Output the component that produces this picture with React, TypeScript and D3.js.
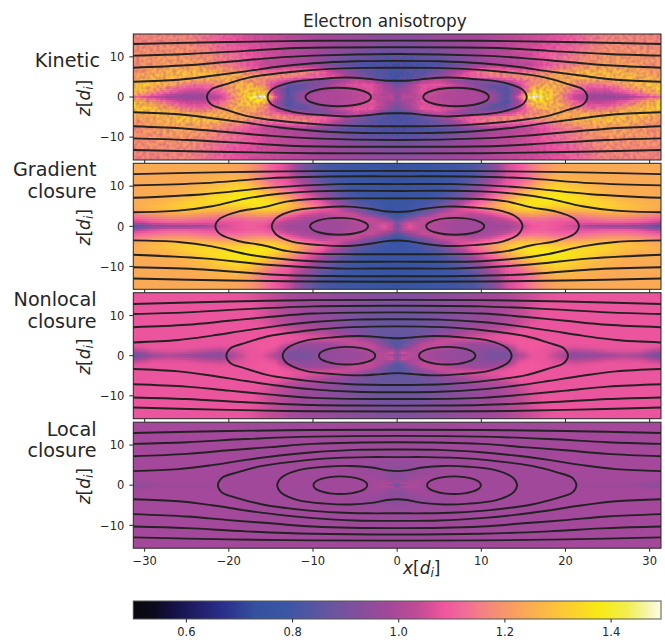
import React, { useMemo } from "react";
import * as d3 from "d3";

const TITLE = "Electron anisotropy";
const X_TICKS = [-30, -20, -10, 0, 10, 20, 30];
const Z_TICKS = [-10, 0, 10];
const CBAR_TICKS = [0.6, 0.8, 1.0, 1.2, 1.4];

const CMAP_VALUES = [0.5, 0.54, 0.58, 0.67, 0.73, 0.79, 0.875, 0.98, 1.04, 1.085, 1.12, 1.175, 1.22, 1.31, 1.38, 1.43, 1.47, 1.5];
const CMAP_COLORS = ["#08080c", "#0b0a1c", "#17124a", "#2b2f8c", "#35509e", "#3b56a5", "#6a559f", "#a0489a", "#c44c96", "#f0569e", "#f06a9a", "#f58a78", "#f9a05e", "#fdc835", "#f8ea14", "#f3ee50", "#f7f5b0", "#fffff5"];

// Sample locations of the fields (upper right quadrant, |x| and |z|)
const XS = [0, 0.6, 1.5, 3, 5, 7, 9, 11, 13, 14.5, 16, 17.5, 19, 21, 23, 25, 27, 29, 31.5];
const ZS = [0, 0.5, 1, 2, 3, 4, 5, 6, 7, 8, 10, 12, 14, 16];

const kineticField = [
  [.88, 1.02, 1.02, 1.05, 1.02, 1.0, 1.0, .98, .80, 1.1, 1.52, 1.4, 1.25, 1.05, .97, .95, .98, 1.05, 1.14],
  [.92, 1.02, 1.0, 1.05, 1.02, 1.0, 1.0, .98, .80, 1.06, 1.44, 1.38, 1.25, 1.06, .98, .97, 1.02, 1.12, 1.24],
  [.94, .98, 1.0, 1.08, 1.02, 1.0, 1.0, .96, .80, 1.0, 1.38, 1.36, 1.26, 1.1, 1.02, 1.02, 1.08, 1.18, 1.32],
  [.90, .94, 1.0, 1.08, 1.04, 1.0, .98, .86, .80, 1.0, 1.28, 1.33, 1.28, 1.15, 1.07, 1.08, 1.16, 1.26, 1.35],
  [.86, .9, .98, 1.08, 1.08, 1.04, .92, .84, .86, 1.04, 1.2, 1.28, 1.28, 1.2, 1.14, 1.16, 1.24, 1.31, 1.33],
  [.78, .8, .84, 1.0, 1.05, .95, .9, .95, 1.04, 1.12, 1.18, 1.22, 1.27, 1.25, 1.24, 1.25, 1.3, 1.32, 1.28],
  [.76, .78, .80, .84, .95, 1.08, 1.1, 1.14, 1.18, 1.2, 1.22, 1.24, 1.27, 1.28, 1.3, 1.3, 1.3, 1.28, 1.24],
  [.78, .78, .8, .82, .88, 1.0, 1.12, 1.18, 1.18, 1.15, 1.15, 1.18, 1.22, 1.27, 1.31, 1.31, 1.29, 1.25, 1.21],
  [.8, .8, .8, .82, .85, .95, 1.06, 1.1, 1.08, 1.06, 1.08, 1.12, 1.17, 1.22, 1.26, 1.26, 1.26, 1.24, 1.2],
  [.74, .74, .76, .78, .8, .84, .92, .98, 1.0, 1.02, 1.04, 1.08, 1.13, 1.17, 1.22, 1.24, 1.24, 1.22, 1.2],
  [.82, .82, .82, .84, .86, .9, .95, 1.0, 1.02, 1.04, 1.06, 1.1, 1.13, 1.16, 1.2, 1.22, 1.22, 1.22, 1.2],
  [.88, .88, .88, .9, .92, .95, .98, 1.0, 1.02, 1.05, 1.06, 1.08, 1.1, 1.13, 1.17, 1.2, 1.2, 1.2, 1.2],
  [.92, .92, .92, .93, .95, .97, .98, 1.0, 1.02, 1.04, 1.05, 1.06, 1.08, 1.11, 1.15, 1.18, 1.18, 1.18, 1.18],
  [.94, .94, .94, .95, .96, .97, .98, 1.0, 1.02, 1.04, 1.05, 1.06, 1.08, 1.11, 1.15, 1.18, 1.18, 1.18, 1.18],
];

const gradientField = [
  [.85, 1.0, 1.08, 1.02, 1.0, .98, .98, .98, .98, 1.02, 1.08, 1.1, 1.08, 1.04, .98, .96, .96, .94, .82],
  [.9, 1.02, 1.06, 1.02, 1.0, .98, .98, .98, .99, 1.04, 1.09, 1.1, 1.08, 1.06, 1.04, 1.04, 1.03, 1.0, .9],
  [.88, 1.0, 1.04, 1.03, 1.0, .98, .98, .98, 1.0, 1.06, 1.1, 1.1, 1.08, 1.07, 1.08, 1.1, 1.1, 1.08, 1.02],
  [.82, .85, .94, 1.04, 1.04, 1.0, .98, 1.0, 1.06, 1.12, 1.14, 1.14, 1.12, 1.12, 1.14, 1.16, 1.16, 1.14, 1.1],
  [.78, .8, .82, .9, 1.04, 1.05, 1.02, 1.06, 1.14, 1.2, 1.22, 1.2, 1.18, 1.18, 1.2, 1.22, 1.22, 1.2, 1.16],
  [.78, .78, .8, .84, .94, 1.05, 1.08, 1.14, 1.24, 1.3, 1.3, 1.28, 1.26, 1.26, 1.28, 1.3, 1.28, 1.26, 1.22],
  [.78, .78, .79, .82, .88, 1.02, 1.12, 1.2, 1.3, 1.34, 1.36, 1.34, 1.32, 1.32, 1.33, 1.33, 1.3, 1.28, 1.24],
  [.78, .78, .79, .8, .84, .96, 1.08, 1.16, 1.28, 1.34, 1.37, 1.37, 1.36, 1.35, 1.34, 1.32, 1.28, 1.26, 1.25],
  [.78, .78, .78, .79, .82, .88, 1.02, 1.12, 1.22, 1.3, 1.35, 1.38, 1.38, 1.36, 1.33, 1.29, 1.26, 1.25, 1.25],
  [.78, .78, .78, .78, .8, .86, .98, 1.08, 1.18, 1.26, 1.32, 1.36, 1.37, 1.34, 1.3, 1.27, 1.25, 1.25, 1.24],
  [.77, .77, .77, .78, .79, .82, .9, 1.02, 1.09, 1.14, 1.22, 1.3, 1.33, 1.3, 1.27, 1.25, 1.24, 1.24, 1.24],
  [.76, .76, .77, .78, .79, .8, .84, .96, 1.07, 1.09, 1.14, 1.22, 1.27, 1.26, 1.25, 1.24, 1.24, 1.24, 1.24],
  [.76, .76, .77, .78, .79, .8, .82, .9, 1.05, 1.09, 1.15, 1.2, 1.23, 1.24, 1.24, 1.24, 1.24, 1.24, 1.24],
  [.76, .76, .77, .78, .79, .8, .82, .9, 1.05, 1.09, 1.15, 1.2, 1.23, 1.24, 1.24, 1.24, 1.24, 1.24, 1.24],
];

const nonlocalField = [
  [.85, .95, 1.02, 1.0, .96, .96, .95, .9, .9, 1.0, 1.07, 1.08, 1.02, .92, .94, .96, 1.0, .97, .84],
  [.96, 1.06, 1.02, 1.0, .97, .96, .95, .91, .91, 1.03, 1.08, 1.08, 1.04, .96, .98, 1.02, 1.04, 1.02, .9],
  [.92, 1.04, 1.0, 1.0, .98, .96, .95, .92, .93, 1.05, 1.08, 1.08, 1.05, 1.0, 1.02, 1.05, 1.06, 1.05, .98],
  [.84, .88, .98, 1.04, 1.0, .98, .96, .94, .98, 1.08, 1.09, 1.08, 1.07, 1.06, 1.07, 1.08, 1.08, 1.08, 1.06],
  [.84, .85, .9, 1.02, 1.05, 1.0, .98, .98, 1.06, 1.09, 1.09, 1.08, 1.08, 1.08, 1.08, 1.08, 1.08, 1.08, 1.08],
  [.84, .85, .87, .94, 1.02, 1.06, 1.06, 1.07, 1.08, 1.09, 1.08, 1.08, 1.08, 1.08, 1.08, 1.08, 1.08, 1.08, 1.08],
  [.86, .86, .87, .89, .94, 1.0, 1.04, 1.06, 1.08, 1.09, 1.08, 1.08, 1.08, 1.08, 1.08, 1.08, 1.08, 1.08, 1.08],
  [.87, .87, .87, .88, .92, .96, 1.0, 1.03, 1.06, 1.08, 1.08, 1.08, 1.08, 1.08, 1.08, 1.08, 1.08, 1.08, 1.08],
  [.87, .87, .87, .88, .9, .94, .98, 1.0, 1.03, 1.06, 1.08, 1.08, 1.08, 1.08, 1.08, 1.08, 1.08, 1.08, 1.08],
  [.87, .87, .87, .88, .9, .93, .96, .98, 1.01, 1.04, 1.07, 1.08, 1.08, 1.08, 1.08, 1.08, 1.08, 1.08, 1.08],
  [.88, .88, .88, .89, .91, .93, .95, .97, 1.0, 1.03, 1.06, 1.08, 1.08, 1.08, 1.08, 1.08, 1.08, 1.08, 1.08],
  [.9, .9, .9, .91, .92, .94, .96, .98, 1.0, 1.03, 1.06, 1.08, 1.08, 1.08, 1.08, 1.08, 1.08, 1.08, 1.08],
  [.92, .92, .92, .93, .94, .95, .97, .98, 1.0, 1.03, 1.05, 1.07, 1.08, 1.08, 1.08, 1.08, 1.08, 1.08, 1.08],
  [.92, .92, .92, .93, .94, .95, .97, .98, 1.0, 1.03, 1.05, 1.07, 1.08, 1.08, 1.08, 1.08, 1.08, 1.08, 1.08],
];

const localField = [
  [.88, .95, 1.0, .985, .98, .98, .98, .98, .98, .98, .98, .98, .98, .975, .97, .97, .97, .96, .93],
  [.92, 1.0, 1.0, .985, .98, .98, .98, .98, .98, .98, .98, .98, .98, .98, .98, .98, .98, .975, .95],
  [1.0, .95, .99, .985, .98, .98, .98, .98, .98, .98, .98, .98, .98, .98, .985, .985, .985, .985, .975],
  [.93, .93, .96, .98, .98, .98, .98, .98, .98, .98, .98, .98, .98, .985, .985, .985, .985, .985, .985],
  [.95, .95, .95, .97, .97, .98, .98, .98, .98, .98, .98, .98, .98, .985, .985, .985, .985, .985, .985],
  [.94, .94, .95, .96, .97, .98, .98, .98, .98, .98, .98, .98, .985, .985, .985, .985, .985, .985, .985],
  [.95, .95, .955, .96, .97, .975, .98, .98, .98, .98, .98, .98, .985, .985, .985, .985, .985, .985, .985],
  [.965, .965, .965, .97, .97, .975, .98, .98, .98, .98, .98, .98, .985, .985, .985, .985, .985, .985, .985],
  [.97, .97, .97, .97, .975, .975, .98, .98, .98, .98, .98, .98, .985, .985, .985, .985, .985, .985, .985],
  [.97, .97, .97, .97, .975, .975, .98, .98, .98, .98, .98, .98, .985, .985, .985, .985, .985, .985, .985],
  [.975, .975, .975, .975, .975, .98, .98, .98, .98, .98, .98, .98, .985, .985, .985, .985, .985, .985, .985],
  [.975, .975, .975, .975, .975, .98, .98, .98, .98, .98, .98, .98, .985, .985, .985, .985, .985, .985, .985],
  [.975, .975, .975, .975, .975, .98, .98, .98, .98, .98, .98, .98, .985, .985, .985, .985, .985, .985, .985],
  [.975, .975, .975, .975, .975, .98, .98, .98, .98, .98, .98, .98, .985, .985, .985, .985, .985, .985, .985],
];

// Field lines: left half, upper side, [x, z]; open lines run from the domain edge to x=0
const kineticOpen = [
  [[-31.4, 13.2], [-20, 13.7], [-10, 14.0], [0, 14.05]],
  [[-31.4, 10.3], [-25, 10.7], [-18, 11.5], [-12, 12.2], [0, 12.4]],
  [[-31.4, 7.3], [-25, 7.9], [-20, 8.8], [-15, 9.7], [-10, 10.3], [0, 10.7]],
  [[-31.4, 3.8], [-26, 4.3], [-22, 5.3], [-18, 6.4], [-14, 7.6], [-10, 8.4], [-5, 8.9], [0, 9.0]],
];
const kineticClosed = [
  [[-22.6, 0], [-22.45, 1.0], [-22.0, 2.0], [-20.3, 3.2], [-17.5, 4.9], [-12.4, 6.3], [-8, 7.0], [-4, 7.25], [0, 7.3]],
  [[-15.4, 0], [-15.25, 1.0], [-14.8, 2.0], [-12.4, 3.7], [-9, 4.5], [-6, 4.85], [-3.5, 4.55], [-1.5, 4.1], [0, 4.05]],
];
const kineticIslands = [7, 3.9, 2.3];

const gradientOpen = [
  [[-31.4, 13.0], [-20, 13.5], [-10, 13.75], [0, 13.8]],
  [[-31.4, 10.2], [-23, 10.75], [-15, 12.0], [-8, 12.4], [0, 12.45]],
  [[-31.4, 7.1], [-23, 8.0], [-15, 9.65], [-7, 10.5], [0, 10.5]],
  [[-31.4, 3.5], [-26, 3.9], [-22, 5.0], [-18, 6.9], [-14, 8.1], [-10, 8.7], [-5, 8.85], [0, 8.8]],
];
const gradientClosed = [
  [[-21.6, 0], [-21.45, 1.0], [-21.0, 2.0], [-18.9, 3.66], [-16.1, 4.65], [-13, 6.2], [-10, 6.8], [-5, 6.95], [0, 6.95]],
  [[-14.9, 0], [-14.75, 1.0], [-14.3, 2.16], [-12.5, 3.8], [-9, 4.7], [-5.8, 4.9], [-3, 4.3], [-1.5, 3.75], [0, 3.55]],
];
const gradientIslands = [6.9, 3.45, 2.1];

const nonlocalOpen = [
  [[-31.4, 12.9], [-20, 13.5], [-10, 13.85], [0, 13.9]],
  [[-31.4, 10.4], [-25, 10.8], [-18, 11.6], [-10, 12.3], [0, 12.45]],
  [[-31.4, 7.1], [-25, 7.7], [-20, 8.7], [-15, 9.7], [-10, 10.5], [0, 10.8]],
  [[-31.4, 3.3], [-26, 3.9], [-22, 5.0], [-18, 6.3], [-14, 7.5], [-10, 8.4], [-5, 9.0], [0, 9.1]],
];
const nonlocalClosed = [
  [[-20.3, 0], [-20.15, 1.0], [-19.7, 2.0], [-18, 3.2], [-15.2, 4.9], [-10, 6.4], [-6, 7.05], [-3, 7.25], [0, 7.3]],
  [[-13.6, 0], [-13.45, 1.0], [-13.0, 2.0], [-11, 3.7], [-7.5, 4.6], [-4.5, 4.9], [-2, 4.6], [-0.8, 4.4], [0, 4.35]],
];
const nonlocalIslands = [5.95, 3.35, 2.2];

const localOpen = [
  [[-31.4, 13], [-20, 13.5], [-10, 13.75], [0, 13.8]],
  [[-31.4, 10.3], [-25, 10.7], [-18, 11.5], [-10, 12.1], [0, 12.3]],
  [[-31.4, 7.2], [-25, 7.8], [-20, 8.7], [-15, 9.5], [-10, 10.3], [0, 10.7]],
  [[-31.4, 3.5], [-26, 4.0], [-22, 5.0], [-18, 6.3], [-14, 7.4], [-10, 8.2], [-5, 8.8], [0, 8.9]],
];
const localClosed = [
  [[-21.3, 0], [-21.15, 1.0], [-20.7, 2.0], [-19, 3.2], [-16, 4.8], [-11, 6.2], [-7, 6.8], [-3.5, 7.0], [0, 7.0]],
  [[-14.25, 0], [-14.1, 1.0], [-13.7, 2.0], [-11.8, 3.7], [-8.5, 4.6], [-5.5, 4.8], [-3, 4.4], [-1.2, 3.7], [0, 3.5]],
];
const localIslands = [6.75, 3.2, 2.2];

const panelFields = [kineticField, gradientField, nonlocalField, localField];
const panelOpen = [kineticOpen, gradientOpen, nonlocalOpen, localOpen];
const panelClosed = [kineticClosed, gradientClosed, nonlocalClosed, localClosed];
const panelIslands = [kineticIslands, gradientIslands, nonlocalIslands, localIslands];
const panelLabels = [["Kinetic"], ["Gradient", "closure"], ["Nonlocal", "closure"], ["Local", "closure"]];

const TEXT = "#262626";
const FONT = "'DejaVu Sans', sans-serif";
const LEFT = 133.3;
const RIGHT = 661;
const PANEL_CENTERS = [97, 226.3, 355.7, 485.2];
const LABEL_BASE = [[66.7], [176, 198], [306, 328], [436, 457]];
const LABEL_RIGHT = [100, 96.5, 96.5, 96.5];
const HALF = 63;
const CB_TOP = 601;
const CB_BOTTOM = 619;
const STEP = 2;

const x = d3.scaleLinear().domain([-31.35, 31.35]).range([LEFT, RIGHT]);
const cbar = d3.scaleLinear().domain([0.5, 1.494]).range([LEFT, RIGHT]);
const color = d3.scaleLinear<string>().domain(CMAP_VALUES).range(CMAP_COLORS).interpolate(d3.interpolateRgb).clamp(true);
const xIndex = d3.scaleLinear().domain(XS).range(XS.map((_, i) => i)).clamp(true);
const zIndex = d3.scaleLinear().domain(ZS).range(ZS.map((_, i) => i)).clamp(true);

function sample(f: number[][], xv: number, zv: number) {
  const xi = xIndex(Math.abs(xv));
  const zi = zIndex(Math.abs(zv));
  const i0 = Math.min(Math.floor(xi), XS.length - 2);
  const j0 = Math.min(Math.floor(zi), ZS.length - 2);
  const tx = xi - i0;
  const tz = zi - j0;
  return (
    f[j0][i0] * (1 - tx) * (1 - tz) +
    f[j0][i0 + 1] * tx * (1 - tz) +
    f[j0 + 1][i0] * (1 - tx) * tz +
    f[j0 + 1][i0 + 1] * tx * tz
  );
}

function ZLabel({ xp, yp }: { xp: number; yp: number }) {
  return (
    <text transform={`translate(${xp},${yp}) rotate(-90)`} textAnchor="middle" fontFamily={FONT} fontSize={17} fill={TEXT}>
      <tspan fontStyle="italic">z</tspan>
      <tspan>[</tspan>
      <tspan fontStyle="italic">d</tspan>
      <tspan fontStyle="italic" fontSize={12} dy={3}>i</tspan>
      <tspan dy={-3}>]</tspan>
    </text>
  );
}

function Panel({ index }: { index: number }) {
  const cy = PANEL_CENTERS[index];
  const top = cy - HALF;
  const bottom = cy + HALF;
  const z = d3.scaleLinear().domain([-15.7, 15.7]).range([bottom, top]);
  const openLine = d3.line<number[]>().x((d) => x(d[0])).y((d) => z(d[1])).curve(d3.curveCatmullRom);
  const closedLine = d3.line<number[]>().x((d) => x(d[0])).y((d) => z(d[1])).curve(d3.curveCatmullRomClosed);
  const field = panelFields[index];

  const cells = useMemo(() => {
    const out: React.ReactElement[] = [];
    const x0 = Math.floor(LEFT);
    const y0 = Math.floor(top);
    for (let py = y0; py < bottom; py += STEP) {
      for (let px = x0; px < RIGHT; px += STEP) {
        const v = sample(field, x.invert(px + STEP / 2), z.invert(py + STEP / 2));
        out.push(<rect key={`${px}-${py}`} x={px} y={py} width={STEP} height={STEP} fill={color(v)} />);
      }
    }
    return out;
  }, [index]);

  const paths: string[] = [];
  panelOpen[index].forEach((half) => {
    const right = half.slice(0, -1).reverse().map((p) => [-p[0], p[1]]);
    const upper = [...half, ...right];
    paths.push(openLine(upper) as string);
    paths.push(openLine(upper.map((p) => [p[0], -p[1]])) as string);
  });
  panelClosed[index].forEach((half) => {
    const upRight = half.slice(0, -1).reverse().map((p) => [-p[0], p[1]]);
    const upper = [...half, ...upRight];
    const lower = upper.slice(1, -1).reverse().map((p) => [p[0], -p[1]]);
    paths.push(closedLine([...upper, ...lower]) as string);
  });
  const [cx, ax, az] = panelIslands[index];

  return (
    <g>
      <clipPath id={`clip${index}`}>
        <rect x={LEFT} y={top} width={RIGHT - LEFT} height={bottom - top} />
      </clipPath>
      <g clipPath={`url(#clip${index})`}>
        <g shapeRendering="crispEdges">{cells}</g>
        {index === 0 && <rect x={LEFT} y={top} width={RIGHT - LEFT} height={bottom - top} filter="url(#speckle)" />}
        {paths.map((d, i) => (
          <path key={i} d={d} fill="none" stroke="#222222" strokeWidth={1.9} />
        ))}
        {[-cx, cx].map((c) => (
          <ellipse key={c} cx={x(c)} cy={z(0)} rx={x(ax) - x(0)} ry={z(0) - z(az)} fill="none" stroke="#222222" strokeWidth={1.9} />
        ))}
      </g>
      <rect x={LEFT} y={top} width={RIGHT - LEFT} height={bottom - top} fill="none" stroke={TEXT} strokeWidth={1} />
      {X_TICKS.map((t) => (
        <line key={t} x1={x(t)} x2={x(t)} y1={bottom} y2={bottom + 3.5} stroke={TEXT} strokeWidth={1} />
      ))}
      {Z_TICKS.map((t) => (
        <g key={t}>
          <line x1={LEFT - 4} x2={LEFT} y1={z(t)} y2={z(t)} stroke={TEXT} strokeWidth={1} />
          <text x={LEFT - 9} y={z(t) + 4.2} textAnchor="end" fontFamily={FONT} fontSize={11.5} fill={TEXT}>
            {t < 0 ? `\u2212${-t}` : t}
          </text>
        </g>
      ))}
      <ZLabel xp={90} yp={cy + 1} />
      {panelLabels[index].map((s, i) => (
        <text key={s} x={LABEL_RIGHT[index]} y={LABEL_BASE[index][i]} textAnchor="end" fontFamily={FONT} fontSize={19.2} fill={TEXT}>
          {s}
        </text>
      ))}
      {index === 3 &&
        X_TICKS.map((t) => (
          <text key={t} x={x(t)} y={bottom + 17} textAnchor="middle" fontFamily={FONT} fontSize={11.5} fill={TEXT}>
            {t < 0 ? `\u2212${-t}` : t}
          </text>
        ))}
    </g>
  );
}

export default function App() {
  const cbCells = d3.range(Math.floor(LEFT), RIGHT, 1);
  return (
    <svg width={665} height={642} viewBox="0 0 665 642" style={{ position: "absolute", left: 0, top: 0, background: "#fff" }}>
      <defs>
        <filter id="speckle" x="0" y="0" width="1" height="1" colorInterpolationFilters="sRGB">
          <feTurbulence type="fractalNoise" baseFrequency="0.3" numOctaves={1} seed={4} />
          <feColorMatrix type="matrix" values="0 0 0 0 0.70  0 0 0 0 0.22  0 0 0 0 0.58  1.0 0 0 0 -0.36" />
        </filter>
      </defs>
      <text x={303} y={26.5} fontFamily={FONT} fontSize={16.9} fill={TEXT}>
        {TITLE}
      </text>
      {[0, 1, 2, 3].map((i) => (
        <Panel key={i} index={i} />
      ))}
      <text x={403} y={574} fontFamily={FONT} fontSize={17} fill={TEXT}>
        <tspan fontStyle="italic">x</tspan>
        <tspan>[</tspan>
        <tspan fontStyle="italic">d</tspan>
        <tspan fontStyle="italic" fontSize={12} dy={3}>i</tspan>
        <tspan dy={-3}>]</tspan>
      </text>
      <g shapeRendering="crispEdges">
        {cbCells.map((px) => (
          <rect key={px} x={px} y={CB_TOP} width={1} height={CB_BOTTOM - CB_TOP} fill={color(cbar.invert(px + 0.5))} />
        ))}
      </g>
      <rect x={LEFT} y={CB_TOP} width={RIGHT - LEFT} height={CB_BOTTOM - CB_TOP} fill="none" stroke="#555" strokeWidth={1} />
      {CBAR_TICKS.map((t) => (
        <g key={t}>
          <line x1={cbar(t)} x2={cbar(t)} y1={CB_BOTTOM} y2={CB_BOTTOM + 3.5} stroke={TEXT} strokeWidth={1} />
          <text x={cbar(t)} y={CB_BOTTOM + 17} textAnchor="middle" fontFamily={FONT} fontSize={11.5} fill={TEXT}>
            {t.toFixed(1)}
          </text>
        </g>
      ))}
    </svg>
  );
}
